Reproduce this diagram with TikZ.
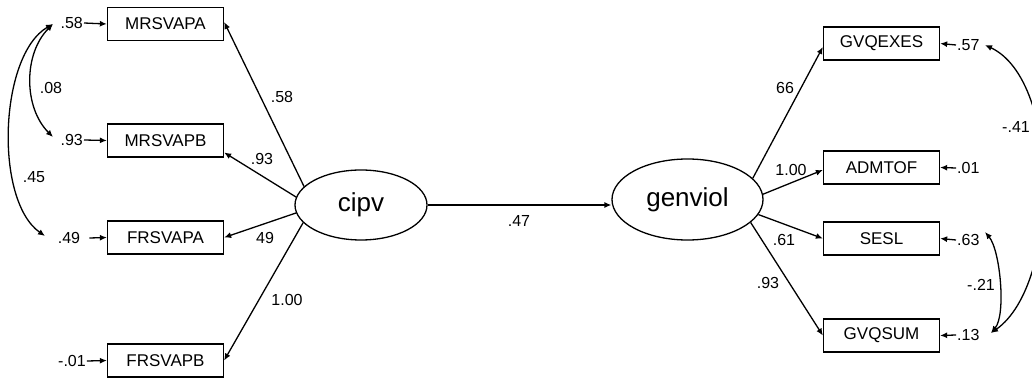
\documentclass[tikz,border=0pt]{standalone}
\usepackage{fontspec}
\setmainfont{Liberation Sans}
\usetikzlibrary{arrows.meta,shapes.geometric}

\begin{document}
\begin{tikzpicture}[x=1pt,y=1pt,
  obs/.style={draw, line width=1.3pt, minimum width=116pt, minimum height=33pt,
              inner sep=0pt, font=\fontsize{17}{20}\selectfont},
  lat/.style={draw, ellipse, line width=1.3pt, inner sep=0pt,
              font=\fontsize{26}{30}\selectfont},
  wt/.style={inner sep=1pt, font=\fontsize{16}{18}\selectfont},
  conn/.style={line width=1.3pt, -{Latex[length=7pt,width=6pt]}},
  cov/.style={line width=1.3pt, {Latex[length=7pt,width=6pt]}-{Latex[length=7pt,width=6pt]}},
]
\useasboundingbox (0,0) rectangle (1032,-379);
\clip (0,0) rectangle (1032,-379);

% observed indicators
\node[obs] (mrsvapa) at (165.5,-24)    {MRSVAPA};
\node[obs] (mrsvapb) at (165.5,-140.5) {MRSVAPB};
\node[obs] (frsvapa) at (165.5,-237.5) {FRSVAPA};
\node[obs] (frsvapb) at (165.5,-360.5) {FRSVAPB};
\node[obs] (gvqexes) at (881.5,-43.5)  {GVQEXES};
\node[obs] (admtof)  at (881.5,-167.5) {ADMTOF};
\node[obs] (sesl)    at (881.5,-238.5) {SESL};
\node[obs] (gvqsum)  at (881.5,-335.5) {GVQSUM};

% latent factors
\node[lat, minimum width=132pt, minimum height=70pt] (cipv)    at (361,-205)     {cipv};
\node[lat, minimum width=151pt, minimum height=81pt] (genviol) at (687.5,-199.5) {genviol};

% error variances, left
\node[wt, anchor=east] (e1) at (84,-23)  {.58};
\node[wt, anchor=east] (e2) at (84,-140) {.93};
\node[wt]              (e3) at (69,-238) {.49};
\node[wt]              (e4) at (72,-361) {-.01};
\draw[conn] (e1.east) -- (mrsvapa.west);
\draw[conn] (e2.east) -- (mrsvapb.west);
\draw[conn] ([xshift=8pt]e3.east) -- (frsvapa.west);
\draw[conn] (e4.east) -- (frsvapb.west);

% error variances, right
\node[wt, anchor=west] (f1) at (956,-45)  {.57};
\node[wt, anchor=west] (f2) at (956,-168) {.01};
\node[wt, anchor=west] (f3) at (956,-240) {.63};
\node[wt, anchor=west] (f4) at (956,-335) {.13};
\draw[conn] (f1.west) -- (gvqexes.east);
\draw[conn] (f2.west) -- (admtof.east);
\draw[conn] (f3.west) -- (sesl.east);
\draw[conn] (f4.west) -- (gvqsum.east);

% error covariances
\coordinate (k1) at (53,-24);
\coordinate (k2) at (53,-137);
\coordinate (k3) at (45,-236);
\coordinate (k4) at (985,-45);
\coordinate (k5) at (985,-232);
\coordinate (k6) at (991,-333);
\draw[cov] (k1) to[out=-135,in=135,looseness=0.95] (k2);
\draw[cov] (k1) to[out=-150,in=145,looseness=0.75] (k3);
\draw[cov] (k4) to[out=-25,in=35,looseness=0.75] (k6);
\draw[cov] (k5) to[out=-50,in=50,looseness=0.6] (k6);
\node[wt] (c1) at (51,-88)   {.08};
\node[wt] (c2) at (34,-177)  {.45};
\node[wt] (c3) at (981,-285) {-.21};
\node[wt] (c4) at (1016,-127) {-.41};

% factor loadings
\draw[conn] (cipv.162) -- ([yshift=2pt]mrsvapa.east);
\draw[conn] (cipv.173) -- ([yshift=-12pt]mrsvapb.east);
\draw[conn] (cipv.187) -- (frsvapa.east);
\draw[conn] (cipv.197) -- (frsvapb.east);
\draw[conn] (genviol.18)  -- ([yshift=-3.5pt]gvqexes.west);
\draw[conn] (genviol.4)   -- ([yshift=-2.5pt]admtof.west);
\draw[conn] (genviol.-12) -- (sesl.west);
\draw[conn] (genviol.-20) -- (gvqsum.west);
\node[wt] (l1) at (282,-97)  {.58};
\node[wt] (l2) at (262,-159) {.93};
\node[wt] (l3) at (265,-238) {49};
\node[wt] (l4) at (287,-300) {1.00};
\node[wt] (l5) at (785,-88)  {66};
\node[wt] (l6) at (791,-170) {1.00};
\node[wt] (l7) at (784,-240) {.61};
\node[wt] (l8) at (768,-283) {.93};

% structural path
\draw[conn] (cipv.east) -- (cipv.east -| genviol.west);
\node[wt] (p1) at (519,-221) {.47};
\end{tikzpicture}
\end{document}
